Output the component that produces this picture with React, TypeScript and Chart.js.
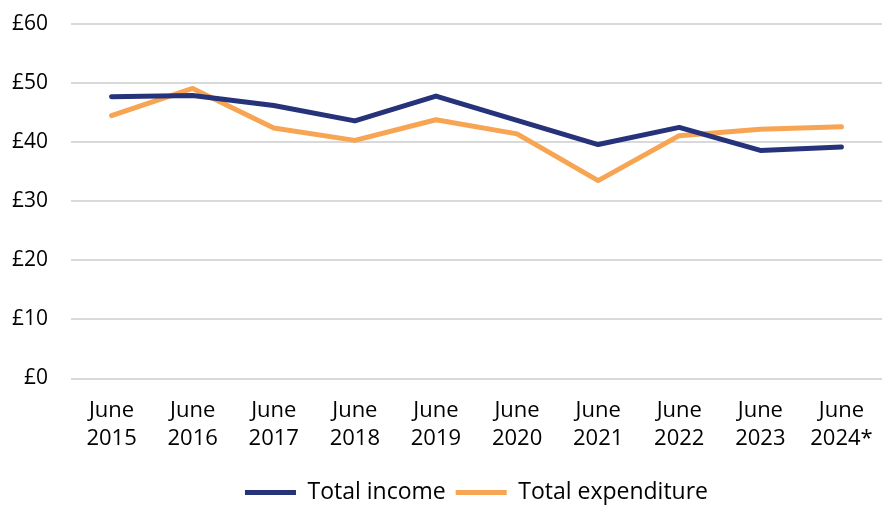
import React, { useEffect, useRef } from "react";
import { Chart, registerables } from "chart.js";

Chart.register(...registerables);

const categories: string[][] = [
  ["June", "2015"], ["June", "2016"], ["June", "2017"], ["June", "2018"], ["June", "2019"],
  ["June", "2020"], ["June", "2021"], ["June", "2022"], ["June", "2023"], ["June", "2024*"],
];
const totalIncome = [47.7, 47.9, 46.2, 43.6, 47.8, 43.7, 39.6, 42.5, 38.6, 39.2];
const totalExpenditure = [44.5, 49.1, 42.4, 40.3, 43.8, 41.4, 33.5, 41.1, 42.2, 42.6];
const seriesNames = ["Total income", "Total expenditure"];
const yTickValues = [0, 10, 20, 30, 40, 50, 60];

const FONT = "'Open Sans', sans-serif";

export default function App() {
  const ref = useRef<HTMLCanvasElement>(null);
  useEffect(() => {
    if (!ref.current) return;
    const chart = new Chart(ref.current, {
      type: "line",
      data: {
        labels: categories,
        datasets: [
          {
            label: seriesNames[0],
            data: totalIncome,
            borderColor: "#26337A",
            backgroundColor: "#26337A",
            borderWidth: 5,
            borderCapStyle: "round",
            borderJoinStyle: "round",
            pointRadius: 0,
            tension: 0,
          },
          {
            label: seriesNames[1],
            data: totalExpenditure,
            borderColor: "#F7A552",
            backgroundColor: "#F7A552",
            borderWidth: 5,
            borderCapStyle: "round",
            borderJoinStyle: "round",
            pointRadius: 0,
            tension: 0,
          },
        ],
      },
      options: {
        animation: false,
        responsive: true,
        maintainAspectRatio: false,
        layout: { padding: { top: 24, left: 0, right: 0, bottom: -9 } },
        plugins: {
          tooltip: { enabled: false },
          legend: {
            position: "bottom",
            fullSize: false,
            labels: {
              usePointStyle: true,
              pointStyle: "line",
              pointStyleWidth: 51,
              color: "#000",
              font: { family: FONT, size: 23 },
              padding: 10,
            },
          },
        },
        scales: {
          x: {
            offset: true,
            grid: { display: false, drawTicks: false },
            border: { display: false },
            ticks: {
              color: "#000",
              font: { family: FONT, size: 22, lineHeight: 28 / 22 },
              padding: 18.25,
              maxRotation: 0,
              autoSkip: false,
            },
            afterFit: (axis: any) => {
              axis.paddingLeft = 0;
              axis.paddingRight = 0;
            },
          },
          y: {
            min: yTickValues[0],
            max: yTickValues[yTickValues.length - 1],
            grid: { color: "#d9d9d9", lineWidth: 2, drawTicks: false },
            border: { display: false },
            afterBuildTicks: (axis: any) => {
              axis.ticks = yTickValues.map((v) => ({ value: v }));
            },
            ticks: {
              color: "#000",
              font: { family: FONT, size: 21 },
              padding: 23,
              callback: (v: any) => "£" + v,
            },
            afterFit: (axis: any) => {
              axis.width = 71;
              axis.paddingTop = 0;
              axis.paddingBottom = 0;
            },
          },
        },
      },
    });
    return () => chart.destroy();
  }, []);
  return (
    <div style={{ position: "fixed", left: 0, top: 0, width: 882, height: 505, background: "#fff" }}>
      <canvas ref={ref} />
    </div>
  );
}
